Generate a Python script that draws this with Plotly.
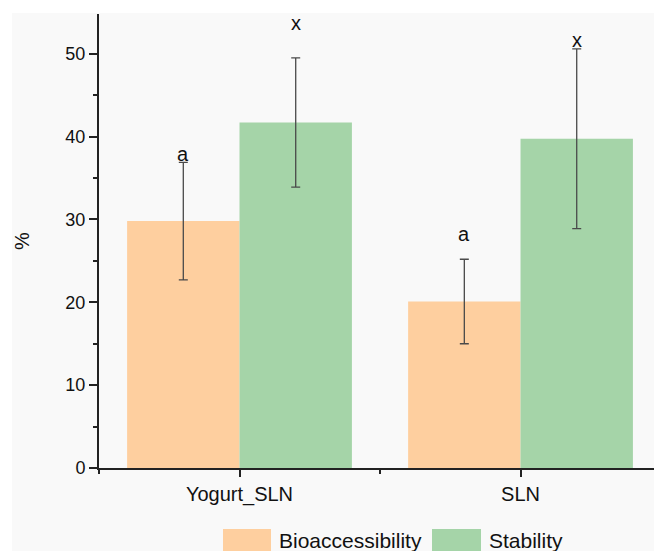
import plotly.graph_objects as go

# ---- data ----
categories = ["Yogurt_SLN", "SLN"]
series_names = ["Bioaccessibility", "Stability"]
bioaccessibility = [29.8, 20.1]
bioaccessibility_err = [7.1, 5.1]
stability = [41.7, 39.75]
stability_err = [7.8, 10.85]
letters_bio = ["a", "a"]
letters_stab = ["x", "x"]
letter_y_bio = [37.9, 28.2]
letter_y_stab = [53.7, 51.7]
y_ticks = [0, 10, 20, 30, 40, 50]

colors = ["#FECF9F", "#A5D4A8"]
FONT = "Liberation Sans, Arial, sans-serif"

x_pos = list(range(len(categories)))

fig = go.Figure()
for name, vals, errs, col in [
    (series_names[0], bioaccessibility, bioaccessibility_err, colors[0]),
    (series_names[1], stability, stability_err, colors[1]),
]:
    fig.add_trace(go.Bar(
        name=name, x=x_pos, y=vals,
        marker=dict(color=col, line=dict(width=0)),
        error_y=dict(type="data", array=errs, visible=True,
                     color="#4a4a4a", thickness=1.3, width=4.5),
        showlegend=False,
    ))

annotations = []
for i in range(len(categories)):
    annotations.append(dict(x=x_pos[i] - 0.2, y=letter_y_bio[i], xref="x", yref="y",
                            text=letters_bio[i], showarrow=False, yanchor="middle",
                            font=dict(family=FONT, size=20, color="#111")))
    annotations.append(dict(x=x_pos[i] + 0.2, y=letter_y_stab[i], xref="x", yref="y",
                            text=letters_stab[i], showarrow=False, yanchor="middle",
                            font=dict(family=FONT, size=20, color="#111")))

FW, FH = 654, 551
L, T, B = 99, 14, 468   # plot area in figure coords
R = FW
def px(xp): return (xp - L) / (R - L)
def py(yp): return (B - yp) / (B - T)

shapes = [
    # white page margins
    dict(type="rect", xref="paper", yref="paper", x0=px(-50), x1=px(700), y0=py(13), y1=py(-50),
         fillcolor="white", line=dict(width=0), layer="below"),
    dict(type="rect", xref="paper", yref="paper", x0=px(-50), x1=px(12), y0=py(600), y1=py(-50),
         fillcolor="white", line=dict(width=0), layer="below"),
]
legend_items = [(series_names[0], colors[0], 223, 271, 277), (series_names[1], colors[1], 432, 481, 487)]
for name, col, sx0, sx1, tx in legend_items:
    shapes.append(dict(type="rect", xref="paper", yref="paper", x0=px(sx0), x1=px(sx1),
                       y0=py(529), y1=py(562), fillcolor=col, line=dict(width=0)))
    annotations.append(dict(x=px(tx), y=py(540), xref="paper", yref="paper", text=name,
                            showarrow=False, xanchor="left", yanchor="middle",
                            font=dict(family=FONT, size=21, color="#111")))

fig.update_layout(
    width=FW, height=FH,
    margin=dict(l=L, r=0, t=T, b=FH - B, pad=0),
    paper_bgcolor="#F9F9F9", plot_bgcolor="#F9F9F9",
    barmode="group", bargap=0.2, bargroupgap=0,
    font=dict(family=FONT, color="#111"),
    shapes=shapes, annotations=annotations,
    xaxis=dict(range=[-0.5, 1.475], tickmode="array", tickvals=x_pos, ticktext=categories,
               showline=True, linewidth=2, linecolor="#222", ticks="outside",
               ticklen=7, tickwidth=1.5, tickcolor="#222", showgrid=False, zeroline=False,
               tickfont=dict(family=FONT, size=20, color="#111"),
               minor=dict(tickmode="array", tickvals=[-0.5, 0.5], ticks="outside",
                          ticklen=4, tickwidth=1.5, tickcolor="#222", showgrid=False)),
    yaxis=dict(range=[0, 54.8], tickmode="array", tickvals=y_ticks,
               showline=True, linewidth=2, linecolor="#222", ticks="outside",
               ticklen=8, tickwidth=1.5, tickcolor="#222", showgrid=False, zeroline=False,
               tickfont=dict(family=FONT, size=18, color="#111"),
               minor=dict(dtick=5, tick0=0, ticks="outside", ticklen=4, tickwidth=1.5,
                          tickcolor="#222", showgrid=False),
               title=dict(text="%", standoff=30, font=dict(family=FONT, size=20, color="#111"))),
)

fig.write_html("out.html", config={"displayModeBar": False},
               post_script="document.body.style.margin='0';document.body.style.overflow='hidden';")
